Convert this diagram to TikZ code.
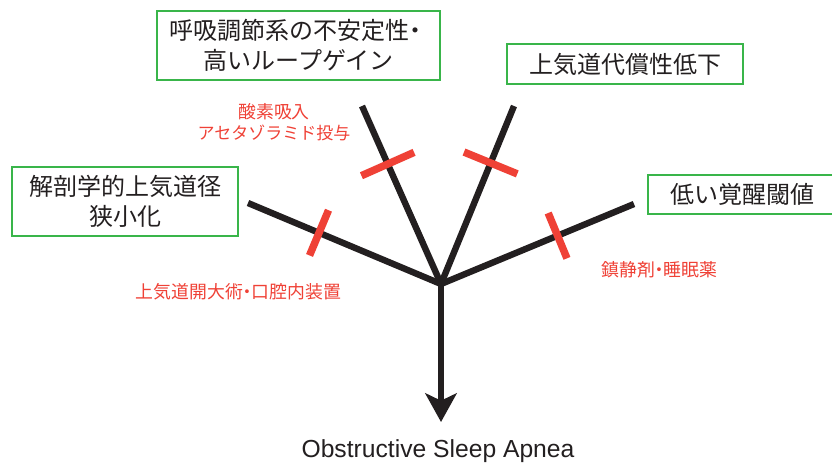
\documentclass[tikz,border=0pt]{standalone}
\usepackage{fontspec}
\setmainfont{Liberation Sans}
\newfontfamily\jp{Noto Sans CJK JP}
\usetikzlibrary{arrows.meta,calc}
\definecolor{ink}{RGB}{35,31,32}
\definecolor{bred}{RGB}{239,65,54}
\definecolor{bgreen}{RGB}{57,181,74}
\newcommand{\hdot}{\kern-.25em・\kern-.25em}
\begin{document}
\begin{tikzpicture}[x=0.75pt,y=-0.75pt,
  box/.style={draw=bgreen,line width=1.9pt,fill=white,text=ink,align=center,inner sep=0pt,
    font=\jp\fontsize{18}{22.5}\selectfont},
  branch/.style={draw=ink,line width=4.8pt},
  blocker/.style={draw=bred,line width=5.6pt},
  redlabel/.style={text=bred,align=center,inner sep=0pt,font=\jp\fontsize{13.4}{15.75}\selectfont},
  osalabel/.style={text=ink,inner sep=0pt,font=\fontsize{18.5}{22}\selectfont}]
\useasboundingbox (0,0) rectangle (832,462);

% boxes
\node[box,minimum width=212.25pt,minimum height=51.75pt] (b1) at (298.5,45.5) {呼吸調節系の不安定性\kern-.25em・\\高いループゲイン};
\node[box,minimum width=177pt,minimum height=30pt] (b2) at (625,64) {上気道代償性低下};
\node[box,minimum width=169.5pt,minimum height=51.75pt] (b3) at (125,201.5) {解剖学的上気道径\\狭小化};
\node[box,minimum width=147pt,minimum height=29.25pt,text width=141pt] (b4) at (746,194.5) {\hspace*{-6pt}低い覚醒閾値};

% red labels
\node[redlabel] (t1) at (274,122.5) {酸素吸入\\{\fontsize{12.75}{15.75}\selectfont アセタゾラミド投与}};
\node[redlabel] (t2) at (238.5,292) {上気道開大術\hdot 口腔内装置};
\node[redlabel] (t3) at (659.5,270) {鎮静剤\hdot 睡眠薬};

% result
\node[osalabel,anchor=base] (osa) at (438,457) {Obstructive Sleep Apnea};

% branches
\coordinate (J) at (441,284);
\coordinate (UL) at (362,106);
\coordinate (UR) at (514,106);
\coordinate (L) at (248,203);
\coordinate (R) at (634,204);
\coordinate (tip) at (441,422);

\draw[branch] (L) -- (J) -- (R);
\draw[branch] (UL) -- (J) -- (UR);
\draw[branch,-{Stealth[length=21.5pt,width=23.5pt,inset=5.5pt]}] (J) -- (tip);

% blocking bars
\coordinate (p1) at ($(J)!0.674!(UL)$);
\coordinate (p2) at ($(J)!0.68!(UR)$);
\coordinate (p3) at ($(J)!0.632!(L)$);
\coordinate (p4) at ($(J)!0.604!(R)$);
\draw[blocker] ($(p1)!21.6pt!90:(UL)$) -- ($(p1)!21.6pt!-90:(UL)$);
\draw[blocker] ($(p2)!21.6pt!90:(UR)$) -- ($(p2)!21.6pt!-90:(UR)$);
\draw[blocker] ($(p3)!18.4pt!90:(L)$) -- ($(p3)!18.4pt!-90:(L)$);
\draw[blocker] ($(p4)!18.4pt!90:(R)$) -- ($(p4)!18.4pt!-90:(R)$);
\end{tikzpicture}
\end{document}
